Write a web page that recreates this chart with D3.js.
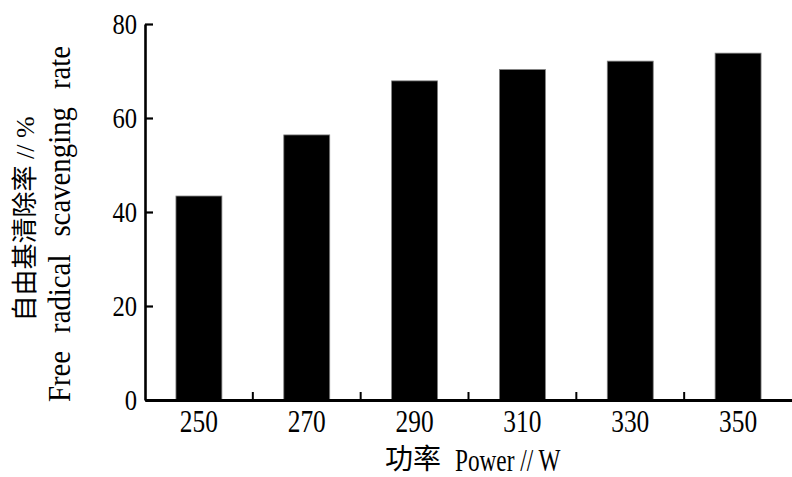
<!DOCTYPE html>
<html>
<head>
<meta charset="utf-8">
<script src="https://cdn.jsdelivr.net/npm/d3@7"></script>
<style>
  html, body { margin: 0; padding: 0; background: #fff; }
  svg { display: block; }
</style>
</head>
<body>
<svg id="chart"></svg>
<script>
// power levels (W) and free radical scavenging rate (%)
const categories = ["250", "270", "290", "310", "330", "350"];
const rates = [43.4, 56.4, 67.9, 70.3, 72.1, 73.8];
const yTicks = [0, 20, 40, 60, 80];

const width = 792, height = 477;
const margin = { top: 24, right: 0, bottom: 77, left: 145 };
const latin = "'Liberation Serif', 'Times New Roman', serif";
const mixed = "'Liberation Serif', 'Noto Sans CJK SC', serif";
const squeeze = 0.82;

const svg = d3.select("#chart")
    .attr("width", width)
    .attr("height", height);

const x = d3.scaleBand()
    .domain(categories)
    .range([margin.left, width - margin.right])
    .paddingInner(0.574)
    .paddingOuter(0.287);

const y = d3.scaleLinear()
    .domain([0, 80])
    .range([height - margin.bottom, margin.top]);

const data = categories.map((c, i) => ({ power: c, rate: rates[i] }));

// BARS
svg.append("g")
    .selectAll("rect")
    .data(data)
    .join("rect")
    .attr("x", d => x(d.power))
    .attr("y", d => y(d.rate))
    .attr("width", x.bandwidth())
    .attr("height", d => y(0) - y(d.rate))
    .attr("fill", "#000")
    .attr("stroke", "#808080")
    .attr("stroke-width", 0.8);

// Y AXIS (ticks point inward)
const yAxis = svg.append("g")
    .attr("transform", `translate(${margin.left},0)`)
    .call(d3.axisLeft(y).tickValues(yTicks).tickSizeInner(-8).tickSizeOuter(0).tickPadding(8));

yAxis.select(".domain").attr("stroke", "#000").attr("stroke-width", 2.6);
yAxis.selectAll(".tick line").attr("stroke", "#000").attr("stroke-width", 2.2);
yAxis.selectAll(".tick text")
    .attr("font-family", latin)
    .attr("font-size", 30)
    .attr("fill", "#000")
    .attr("x", -8 / squeeze)
    .attr("transform", `scale(${squeeze},1)`);

// X AXIS
const xAxis = svg.append("g")
    .attr("transform", `translate(0,${y(0)})`)
    .call(d3.axisBottom(x).tickValues([]).tickSizeOuter(0));

xAxis.select(".domain").attr("stroke", "#000").attr("stroke-width", 2.8);

const gap = (x.step() - x.bandwidth()) / 2;
xAxis.selectAll(".sep")
    .data(categories.slice(1))
    .join("line")
    .attr("class", "sep")
    .attr("x1", d => x(d) - gap)
    .attr("x2", d => x(d) - gap)
    .attr("y1", 0)
    .attr("y2", -8)
    .attr("stroke", "#000")
    .attr("stroke-width", 2);

svg.append("g")
    .selectAll("text")
    .data(categories)
    .join("text")
    .attr("transform", d => `translate(${x(d) + x.bandwidth() / 2},432) scale(${squeeze},1)`)
    .attr("text-anchor", "middle")
    .attr("font-family", latin)
    .attr("font-size", 31)
    .attr("fill", "#000")
    .text(d => d);

// X TITLE
svg.append("text")
    .attr("x", 385)
    .attr("y", 469)
    .attr("font-family", "'Noto Sans CJK SC', sans-serif")
    .attr("font-size", 28)
    .attr("fill", "#000")
    .text("功率");

svg.append("text")
    .attr("transform", "translate(455,471) scale(0.75,1)")
    .attr("font-family", latin)
    .attr("font-size", 31)
    .attr("fill", "#000")
    .text("Power // W");

// Y TITLE (two lines)
svg.append("text")
    .attr("transform", "translate(34,219) rotate(-90)")
    .attr("text-anchor", "middle")
    .attr("font-family", mixed)
    .attr("font-size", 26)
    .attr("fill", "#000")
    .text("自由基清除率 // %");

svg.append("text")
    .attr("transform", "translate(70,224) rotate(-90) scale(0.9,1)")
    .attr("text-anchor", "middle")
    .attr("font-family", latin)
    .attr("font-size", 32)
    .attr("word-spacing", 12)
    .attr("fill", "#000")
    .text("Free radical scavenging rate");
</script>
</body>
</html>
